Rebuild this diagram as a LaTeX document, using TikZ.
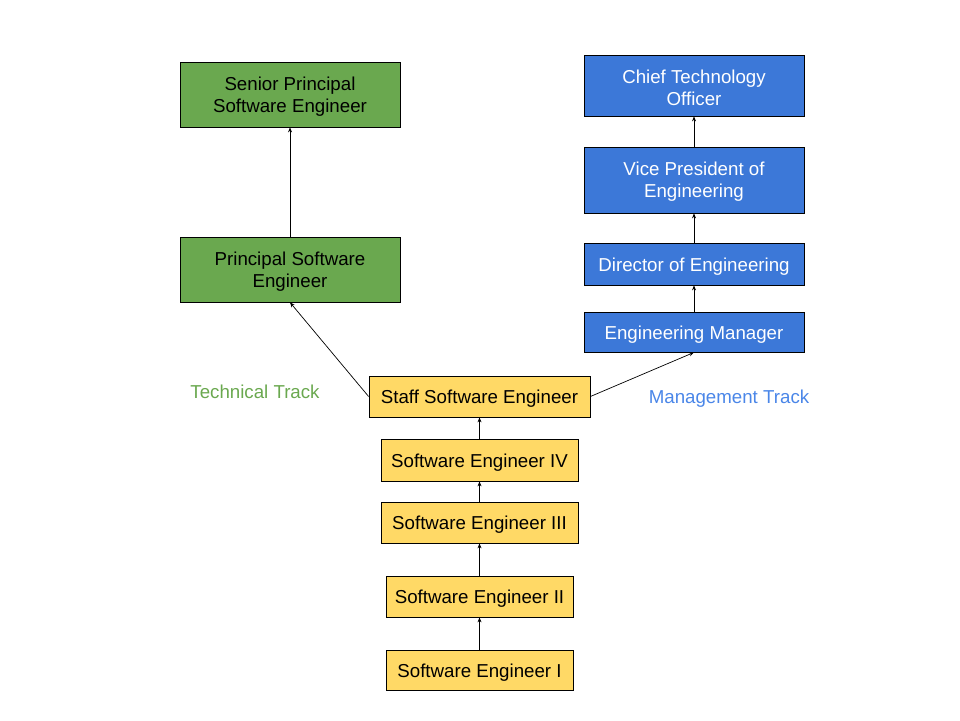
\documentclass[tikz,border=0pt]{standalone}
\usepackage{fontspec}
\setmainfont{Liberation Sans}
\usetikzlibrary{arrows.meta}
\definecolor{gfill}{HTML}{6AA84F}
\definecolor{bfill}{HTML}{3C78D8}
\definecolor{yfill}{HTML}{FFD966}
\definecolor{btext}{HTML}{4A86E8}
\begin{document}
\begin{tikzpicture}[x=1pt,y=-1pt,
  box/.style={draw=black, line width=0.8pt, inner sep=0pt},
  gbox/.style={box, fill=gfill},
  bbox/.style={box, fill=bfill},
  ybox/.style={box, fill=yfill},
  txt/.style={inner sep=0pt, align=center, font=\fontsize{18.7}{22}\selectfont},
  arr/.style={-{Stealth[length=5pt,width=4pt]}, line width=0.7pt},
  lbl/.style={font=\fontsize{18.7}{22}\selectfont}]
\useasboundingbox (0,0) rectangle (960,720);
\node[gbox, minimum width=220pt, minimum height=65pt] (sp) at (290,94.5) {};
\node[gbox, minimum width=220pt, minimum height=65pt] (p) at (290,269.5) {};
\node[bbox, minimum width=220pt, minimum height=61pt] (cto) at (694,85.5) {};
\node[bbox, minimum width=220pt, minimum height=66pt] (vp) at (694,180) {};
\node[bbox, minimum width=220pt, minimum height=42pt] (dir) at (694,264) {};
\node[bbox, minimum width=220pt, minimum height=40pt] (em) at (694,332) {};
\node[ybox, minimum width=221pt, minimum height=41pt] (staff) at (479.5,396.5) {};
\node[ybox, minimum width=197pt, minimum height=42pt] (s4) at (479.5,460) {};
\node[ybox, minimum width=197pt, minimum height=41pt] (s3) at (479.5,522.5) {};
\node[ybox, minimum width=187pt, minimum height=41pt] (s2) at (479.5,596.5) {};
\node[ybox, minimum width=187pt, minimum height=40pt] (s1) at (479.5,670) {};
\node[txt] (sp-t) at ([yshift=-2pt]sp.center) {Senior Principal\\Software Engineer};
\node[txt] (p-t) at ([yshift=-2pt]p.center) {Principal Software\\Engineer};
\node[txt, text=white] (cto-t) at ([yshift=-2pt]cto.center) {Chief Technology\\Officer};
\node[txt, text=white] (vp-t) at ([yshift=-2pt]vp.center) {Vice President of\\Engineering};
\node[txt, text=white] (dir-t) at ([yshift=-2.5pt]dir.center) {Director of Engineering};
\node[txt, text=white] (em-t) at ([yshift=-2.5pt]em.center) {Engineering Manager};
\node[txt] (staff-t) at ([yshift=-2.5pt]staff.center) {Staff Software Engineer};
\node[txt] (s4-t) at ([yshift=-2.5pt]s4.center) {Software Engineer IV};
\node[txt] (s3-t) at ([yshift=-2.5pt]s3.center) {Software Engineer III};
\node[txt] (s2-t) at ([yshift=-2.5pt]s2.center) {Software Engineer II};
\node[txt] (s1-t) at ([yshift=-2.5pt]s1.center) {Software Engineer I};
\node[lbl, text=gfill] (tt) at (255,392) {Technical Track};
\node[lbl, text=btext] (mt) at (729,399) {Management Track};
\draw[arr] (p.north) -- (sp.south);
\draw[arr] (staff.west) -- (p.south);
\draw[arr] (staff.east) -- (em.south);
\draw[arr] (em.north) -- (dir.south);
\draw[arr] (dir.north) -- (vp.south);
\draw[arr] (vp.north) -- (cto.south);
\draw[arr] (s1.north) -- (s2.south);
\draw[arr] (s2.north) -- (s3.south);
\draw[arr] (s3.north) -- (s4.south);
\draw[arr] (s4.north) -- (staff.south);
\end{tikzpicture}
\end{document}
